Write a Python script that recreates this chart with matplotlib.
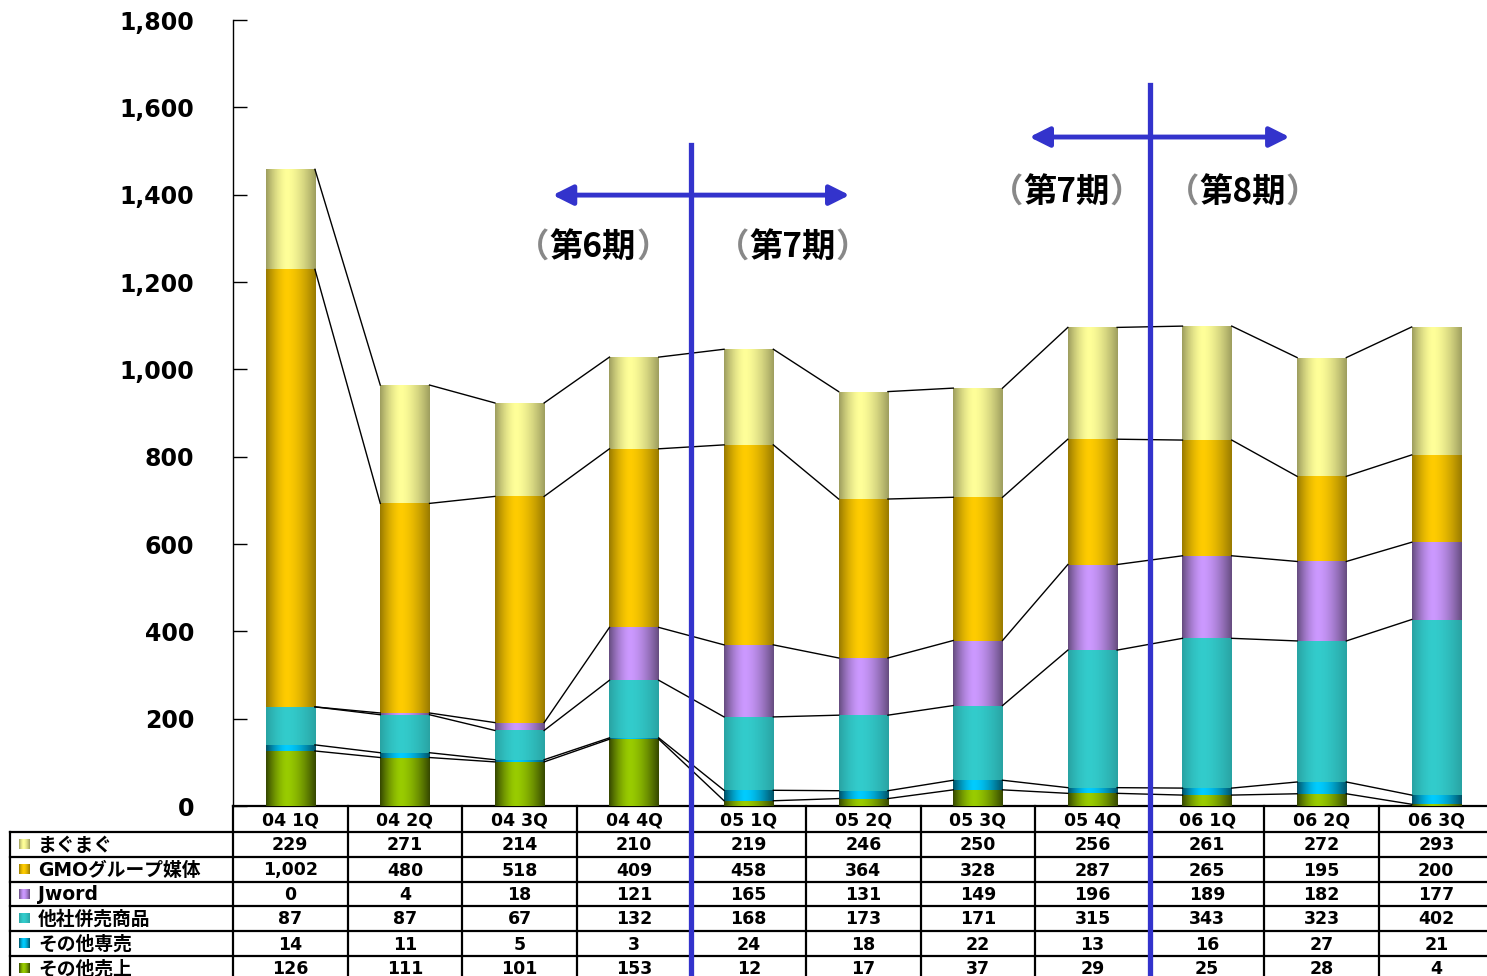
import numpy as np
import matplotlib
matplotlib.use("Agg")
from matplotlib import pyplot as plt
from matplotlib.colors import to_rgb

plt.rcParams['font.family'] = ['DejaVu Sans', 'Noto Sans CJK JP']

quarters = ['04 1Q', '04 2Q', '04 3Q', '04 4Q', '05 1Q', '05 2Q',
            '05 3Q', '05 4Q', '06 1Q', '06 2Q', '06 3Q']
series_names = ['まぐまぐ', 'GMOグループ媒体', 'Jword', '他社併売商品', 'その他専売', 'その他売上']
mag = [229, 271, 214, 210, 219, 246, 250, 256, 261, 272, 293]
gmo = [1002, 480, 518, 409, 458, 364, 328, 287, 265, 195, 200]
jword = [0, 4, 18, 121, 165, 131, 149, 196, 189, 182, 177]
other_products = [87, 87, 67, 132, 168, 173, 171, 315, 343, 323, 402]
other_exclusive = [14, 11, 5, 3, 24, 18, 22, 13, 16, 27, 21]
other_sales = [126, 111, 101, 153, 12, 17, 37, 29, 25, 28, 4]

# table order (top to bottom) and colours
table_rows = [mag, gmo, jword, other_products, other_exclusive, other_sales]
colors = ['#FFFF99', '#FFCC00', '#CC99FF', '#33CCCC', '#00CCFF', '#99CC00']
edge_dark = [0.62, 0.6, 0.5, 0.8, 0.4, 0.35]

# period markers
dividers = [(3.5, 1514), (7.5, 1651)]
arrows = [(2.29, 4.88, 1399), (6.45, 8.72, 1532)]
period_labels = [(2.64, 1280, '第6期'), (4.38, 1280, '第7期'),
                 (6.77, 1406, '第7期'), (8.31, 1406, '第8期')]

W, H = 1487, 976
AX_L, AX_B, AX_T = 233, 806, 20
COL_W = 114.6
n = len(quarters)

fig = plt.figure(figsize=(W / 100, H / 100), dpi=100)

# table layer (pixel coordinates)
tax = fig.add_axes([0, 0, 1, 1], zorder=0)
tax.set_xlim(0, W)
tax.set_ylim(H, 0)
tax.axis('off')

ax = fig.add_axes([AX_L / W, (H - AX_B) / H, n * COL_W / W, (AX_B - AX_T) / H], zorder=2)
ax.set_facecolor('none')


def shade(t, lo):
    peak = 0.42
    d = np.where(t < peak, (peak - t) / peak, (t - peak) / (1 - peak))
    return lo + (1 - lo) * (1 - d ** 1.6)


def gradient_image(color, lo):
    t = np.linspace(0, 1, 80)
    base = np.array(to_rgb(color))
    img = base[None, None, :] * shade(t, lo)[None, :, None]
    return np.clip(img, 0, 1)


x = np.arange(n)
bw = 0.43
stack = table_rows[::-1]
stack_colors = colors[::-1]
stack_dark = edge_dark[::-1]
bottom = np.zeros(n)
bounds = [bottom.copy()]
for vals, c, lo in zip(stack, stack_colors, stack_dark):
    vals = np.array(vals, dtype=float)
    bars = ax.bar(x, vals, bw, bottom=bottom, color=c, zorder=3)
    img = gradient_image(c, lo)
    for rect in bars:
        h = rect.get_height()
        if h <= 0:
            continue
        x0, y0 = rect.get_xy()
        im = ax.imshow(img, extent=[x0, x0 + rect.get_width(), y0, y0 + h],
                       aspect='auto', zorder=3.5, interpolation='bilinear')
        im.set_clip_path(rect)
    bottom = bottom + vals
    bounds.append(bottom.copy())

# connector lines between neighbouring bars
for b in bounds[1:]:
    for i in range(n - 1):
        ax.plot([i + bw / 2, i + 1 - bw / 2], [b[i], b[i + 1]], color='black', lw=1, zorder=4)

ax.set_xlim(-0.5, n - 0.5)
ax.set_ylim(0, 1800)
ax.set_yticks(range(0, 1801, 200))
ax.set_yticklabels([f'{v:,}' for v in range(0, 1801, 200)], fontsize=17, fontweight='bold')
ax.tick_params(axis='y', direction='in', length=10, width=1, pad=28)
ax.set_xticks([])
for s in ['top', 'right', 'bottom']:
    ax.spines[s].set_visible(False)
ax.spines['left'].set_linewidth(1)

blue = '#3333CC'
for xd, top in dividers:
    ax.plot([xd, xd], [-420, top], color=blue, lw=3.8, clip_on=False, zorder=6)
for x0, x1, y in arrows:
    ax.annotate('', xy=(x0, y), xytext=(x1, y),
                arrowprops=dict(arrowstyle='<|-|>', color=blue, lw=3.5,
                                mutation_scale=30, shrinkA=0, shrinkB=0), zorder=6)
for xp, yp, lab in period_labels:
    t = ax.text(xp, yp, lab, fontsize=24, fontweight='bold', ha='center', va='center',
                family=['Noto Sans CJK JP'], zorder=7)
    ax.annotate('（', xy=(0, 0.5), xycoords=t, ha='right', va='center', fontsize=24,
                fontweight='bold', color='#888888', family=['Noto Sans CJK JP'], zorder=7)
    ax.annotate('）', xy=(1, 0.5), xycoords=t, ha='left', va='center', fontsize=24,
                fontweight='bold', color='#888888', family=['Noto Sans CJK JP'], zorder=7)

# data table
row_y = [806, 832, 857, 882, 906, 931, 956, 981]
right = AX_L + n * COL_W
lw = 1.6
tax.plot([AX_L, right], [row_y[0], row_y[0]], color='black', lw=lw)
for yy in row_y[1:]:
    tax.plot([10, right], [yy, yy], color='black', lw=lw)
tax.plot([10, 10], [row_y[1], H], color='black', lw=lw)
for k in range(n + 1):
    xx = AX_L + k * COL_W
    tax.plot([xx, xx], [row_y[0], H], color='black', lw=lw)
for i, q in enumerate(quarters):
    cx = AX_L + (i + 0.5) * COL_W
    tax.text(cx, (row_y[0] + row_y[1]) / 2 + 1, q, ha='center', va='center',
             fontsize=12.5, fontweight='bold')
for r, (name, vals, c, lo) in enumerate(zip(series_names, table_rows, colors, edge_dark)):
    cy = (row_y[r + 1] + row_y[r + 2]) / 2
    tax.imshow(gradient_image(c, lo), extent=[19, 30, cy + 5, cy - 5], aspect='auto')
    tax.text(38, cy + 1, name, ha='left', va='center', fontsize=13.5, fontweight='bold')
    for i, v in enumerate(vals):
        cx = AX_L + (i + 0.5) * COL_W
        tax.text(cx, cy + 1, f'{v:,}', ha='center', va='center', fontsize=12.5, fontweight='bold')
tax.set_xlim(0, W)
tax.set_ylim(H, 0)

fig.savefig('out.png', dpi=100)
